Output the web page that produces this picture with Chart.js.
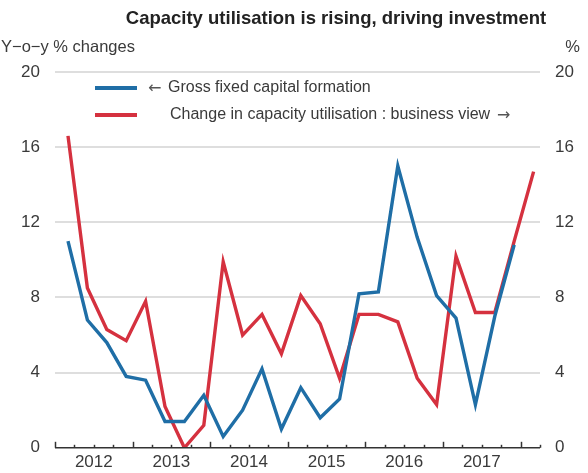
<!DOCTYPE html>
<html>
<head>
<meta charset="utf-8">
<script src="https://cdn.jsdelivr.net/npm/chart.js@4/dist/chart.umd.min.js"></script>
<style>
  html, body { margin: 0; padding: 0; background: #ffffff; }
  #wrap { width: 588px; height: 473px; position: relative; }
</style>
</head>
<body>
<div id="wrap"><canvas id="chart"></canvas></div>
<script>
// Quarterly observations, 2012 Q1 to 2018 Q1
const quarters = [
  '2012Q1','2012Q2','2012Q3','2012Q4',
  '2013Q1','2013Q2','2013Q3','2013Q4',
  '2014Q1','2014Q2','2014Q3','2014Q4',
  '2015Q1','2015Q2','2015Q3','2015Q4',
  '2016Q1','2016Q2','2016Q3','2016Q4',
  '2017Q1','2017Q2','2017Q3','2017Q4',
  '2018Q1'
];
// Gross fixed capital formation, y-o-y % changes (left axis)
const gfcf = [11.0, 6.8, 5.6, 3.8, 3.6, 1.4, 1.4, 2.8, 0.6, 2.0, 4.2, 1.0,
              3.2, 1.6, 2.6, 8.2, 8.3, 15.0, 11.2, 8.1, 6.9, 2.3, 7.0, 10.8];
// Change in capacity utilisation, business view, % (right axis)
const capUtil = [16.6, 8.5, 6.3, 5.7, 7.8, 2.2, 0.0, 1.2, 9.9, 6.0, 7.1, 5.0,
                 8.1, 6.6, 3.7, 7.1, 7.1, 6.7, 3.7, 2.3, 10.2, 7.2, 7.2, 11.0, 14.7];
const yearLabels = ['2012', '2013', '2014', '2015', '2016', '2017'];
const yTicks = [0, 4, 8, 12, 16, 20];

const BLUE = '#1f6ea6';
const RED = '#d5313f';
const TEXT = '#3a3a3a';
const FONT = '"Liberation Sans", Arial, sans-serif';

// where each quarter's value sits inside its quarter slot
const POS_IN_QUARTER = 0.67;
const xMin = -POS_IN_QUARTER;
const xMax = quarters.length - POS_IN_QUARTER;

const toPoints = arr => arr.map((v, i) => ({ x: i, y: v }));

// Title, axis units and the hand-placed legend
const annotations = {
  id: 'annotations',
  afterDraw(chart) {
    const ctx = chart.ctx;
    ctx.save();
    ctx.textBaseline = 'middle';
    ctx.fillStyle = '#222';
    ctx.font = 'bold 18.5px ' + FONT;
    ctx.textAlign = 'center';
    ctx.fillText('Capacity utilisation is rising, driving investment', 336, 19);

    ctx.fillStyle = TEXT;
    ctx.font = '16.5px ' + FONT;
    ctx.textAlign = 'left';
    ctx.fillText('Y\u2212o\u2212y % changes', 1, 47);
    ctx.textAlign = 'right';
    ctx.fillText('%', 580, 47);

    // legend
    ctx.lineWidth = 4;
    ctx.strokeStyle = BLUE;
    ctx.beginPath(); ctx.moveTo(95, 88); ctx.lineTo(137, 88); ctx.stroke();
    ctx.strokeStyle = RED;
    ctx.beginPath(); ctx.moveTo(95, 115); ctx.lineTo(137, 115); ctx.stroke();
    ctx.fillStyle = '#555';
    ctx.textAlign = 'left';
    ctx.font = '16px "DejaVu Sans", sans-serif';
    ctx.fillText('\u2190', 148, 89);
    ctx.fillText('\u2192', 497, 116);
    ctx.fillStyle = TEXT;
    ctx.font = '16px ' + FONT;
    ctx.fillText('Gross fixed capital formation', 168, 88);
    ctx.fillText('Change in capacity utilisation : business view', 170, 115);
    ctx.restore();
  }
};

// Bottom axis line with upward quarter ticks, longer at year boundaries
const quarterAxis = {
  id: 'quarterAxis',
  afterDatasetsDraw(chart) {
    const ctx = chart.ctx;
    const xs = chart.scales.x;
    const y0 = chart.scales.y.getPixelForValue(0);
    ctx.save();
    ctx.strokeStyle = '#333';
    ctx.lineWidth = 1.5;
    ctx.beginPath();
    ctx.moveTo(xs.getPixelForValue(xMin), y0);
    ctx.lineTo(xs.getPixelForValue(xMax), y0);
    ctx.stroke();
    for (let k = 0; k <= quarters.length; k++) {
      const px = Math.round(xs.getPixelForValue(xMin + k)) + 0.5;
      const len = k % 4 === 0 ? 6 : 3;
      ctx.beginPath();
      ctx.moveTo(px, y0);
      ctx.lineTo(px, y0 - len);
      ctx.stroke();
    }
    ctx.restore();
  }
};

new Chart(document.getElementById('chart'), {
  type: 'line',
  data: {
    datasets: [
      {
        label: 'Gross fixed capital formation',
        data: toPoints(gfcf),
        borderColor: BLUE,
        borderWidth: 3.4,
        pointRadius: 0,
        tension: 0,
        yAxisID: 'y'
      },
      {
        label: 'Change in capacity utilisation : business view',
        data: toPoints(capUtil),
        borderColor: RED,
        borderWidth: 3.4,
        pointRadius: 0,
        tension: 0,
        yAxisID: 'y2'
      }
    ]
  },
  options: {
    responsive: true,
    maintainAspectRatio: false,
    animation: false,
    layout: { padding: { top: 72, left: 0, right: 0, bottom: 0 } },
    plugins: { legend: { display: false }, tooltip: { enabled: false }, title: { display: false } },
    scales: {
      x: {
        type: 'linear',
        min: xMin,
        max: xMax,
        afterBuildTicks(scale) {
          const t = [];
          for (let k = 0; k <= quarters.length; k++) t.push({ value: xMin + k });
          scale.ticks = t;
        },
        afterFit(scale) { scale.height = 25; },
        grid: { display: false, drawTicks: false },
        border: { display: false },
        ticks: {
          autoSkip: false,
          maxRotation: 0,
          padding: 4,
          color: TEXT,
          font: { family: FONT, size: 17 },
          callback(value, index) {
            if (index % 4 === 2) return yearLabels[(index - 2) / 4] || '';
            return '';
          }
        }
      },
      y: {
        position: 'left',
        min: 0,
        max: 20,
        afterBuildTicks(scale) { scale.ticks = yTicks.map(v => ({ value: v })); },
        afterFit(scale) { scale.width = 55; },
        grid: {
          drawTicks: false,
          lineWidth: 2,
          color: ctx => (ctx.tick && ctx.tick.value === 0) ? 'rgba(0,0,0,0)' : '#dedede'
        },
        border: { display: false },
        ticks: { padding: 15, color: TEXT, font: { family: FONT, size: 17 } }
      },
      y2: {
        position: 'right',
        min: 0,
        max: 20,
        afterBuildTicks(scale) { scale.ticks = yTicks.map(v => ({ value: v })); },
        afterFit(scale) { scale.width = 48; },
        grid: { display: false, drawTicks: false },
        border: { display: false },
        ticks: { padding: 15, color: TEXT, font: { family: FONT, size: 17 } }
      }
    }
  },
  plugins: [quarterAxis, annotations]
});
</script>
</body>
</html>
